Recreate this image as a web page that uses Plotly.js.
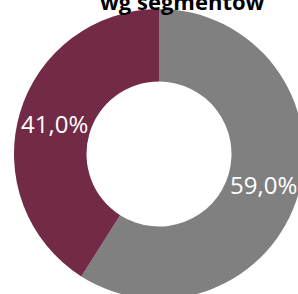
<!DOCTYPE html>
<html>
<head>
<meta charset="utf-8">
<script src="https://cdn.plot.ly/plotly-3.0.1.min.js"></script>
<style>
html,body{margin:0;padding:0;overflow:hidden;width:298px;height:294px;background:#fff;}
#chart{position:absolute;left:0;top:0;width:320px;height:320px;}
</style>
</head>
<body>
<div id="chart"></div>
<script>
const segments = ["Segment A", "Segment B"];
const shares = [59.0, 41.0];
const colors = ["#808080", "#722A47"];
const titleText = "wg segmentów";

const holeFrac = 0.5;

// label positions derived from the data (mid-angle of each slice, mid-radius of the ring)
const total = shares.reduce((a, b) => a + b, 0);
let cum = 0;
const labelAnns = shares.map((v, i) => {
  const mid = (cum + v / 2) / total * 2 * Math.PI;
  cum += v;
  const rMid = 0.5 * (1 + holeFrac) / 2;
  return {
    text: v.toFixed(1).replace(".", ",") + "%",
    xref: "paper", yref: "paper",
    x: 0.5 + rMid * Math.sin(mid),
    y: 0.5 + rMid * Math.cos(mid),
    xanchor: "center", yanchor: "middle",
    showarrow: false,
    font: {family: "Open Sans", size: 24, color: "#ffffff"}
  };
});

const data = [{
  type: "pie",
  labels: segments,
  values: shares,
  hole: holeFrac,
  sort: false,
  direction: "clockwise",
  rotation: 0,
  marker: {colors: colors, line: {width: 0}},
  textinfo: "none",
  hoverinfo: "none",
  showlegend: false,
  domain: {x: [0, 1], y: [0, 1]}
}];

const layout = {
  width: 320,
  height: 320,
  margin: {l: 14, r: 16, t: 9, b: 21},
  paper_bgcolor: "#ffffff",
  separators: ",.",
  showlegend: false,
  annotations: [{
    text: "<b>" + titleText + "</b>",
    xref: "paper", yref: "paper",
    x: 0.58, y: 1.0, xanchor: "center", yanchor: "bottom",
    yshift: -9,
    showarrow: false,
    font: {family: "Open Sans", size: 22, color: "#000000"}
  }].concat(labelAnns)
};

Plotly.newPlot("chart", data, layout, {displayModeBar: false, staticPlot: true});
</script>
</body>
</html>
